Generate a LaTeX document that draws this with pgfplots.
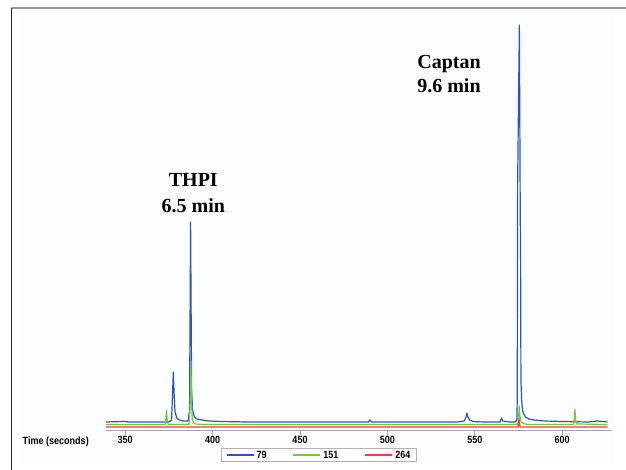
\documentclass[border=0pt]{standalone}
\usepackage{fontspec}
\usepackage{pgfplots}
\pgfplotsset{compat=1.18}
\setmainfont{Liberation Sans}
\newfontfamily\narrowfont{Liberation Sans}[FakeStretch=0.86]
\newfontfamily\annfont{Liberation Serif}
\definecolor{cblue}{RGB}{45,85,185}
\definecolor{cgreen}{RGB}{115,200,65}
\definecolor{cred}{RGB}{240,65,65}
\definecolor{bgfaint}{RGB}{252,253,255}
\begin{document}
\begin{tikzpicture}[x=1pt,y=1pt]
\path[use as bounding box] (0,0) rectangle (626,-470);
\fill[bgfaint] (20,-16) rectangle (614,-462);
\draw[line width=1.6pt, gray!80] (11,-8.3) -- (626,-8.3);
\draw[line width=1pt, black!85] (11,-8) -- (11,-470);
\begin{axis}[
  at={(106pt,-430pt)}, anchor=south west,
  scale only axis, width=506pt, height=414pt,
  xmin=339, xmax=628.5, ymin=0, ymax=414,
  hide y axis,
  axis x line*=bottom,
  axis line style={-, line width=1pt, gray!70},
  xtick={350,400,450,500,550,600},
  xticklabels={350,400,450,500,550,600},
  tick align=outside, major tick length=5pt,
  tick style={gray!70, line width=0.8pt},
  xticklabel style={anchor=center, yshift=-5pt, font=\narrowfont\bfseries\fontsize{10.5}{12}\selectfont},
  legend columns=3,
  legend style={at={(axis description cs:0.421,-0.0611)}, anchor=center,
    draw=gray!60, line width=0.8pt, fill=white, inner xsep=4pt, inner ysep=0pt,
    font=\narrowfont\bfseries\fontsize{10.5}{11}\selectfont,
    /tikz/every even column/.append style={column sep=24pt}},
  legend image code/.code={\draw[#1, line width=1.8pt] (0pt,0pt) -- (27pt,0pt);},
  every axis plot/.append style={line width=1.2pt, line join=round},
]
\addplot[cblue] coordinates {
(339,8) (345,8.3) (350,8.6) (352,8) (360,8) (370,8) (375,8) (376.5,10) (377,32) (377.5,58) (378,35) (378.5,18) (379.5,12) (381,10) (383,9) (386,9) (386.8,20) (387.1,115) (387.4,208) (387.7,120) (388.0,40) (388.5,20) (389.5,13) (391,11) (394,10) (398,9) (405,8.5) (420,8) (450,8) (470,8) (489,8) (490,10) (491,8) (520,8) (540,8) (544,9) (545,13) (545.5,17) (546,13) (547,10) (549,8.5) (555,8) (564.5,8) (565.3,12) (566,9) (570,8) (573,8) (574.1,10) (574.3,35) (574.5,245) (575.5,405) (576.0,218) (576.2,172) (576.4,50) (576.8,30) (577.3,20) (578,16) (579,13) (581,11) (584,10) (590,9) (600,8.5) (615,8) (620,9) (626,8)
};
\addlegendentry{79}
\addplot[cgreen] coordinates {
(339,5.5) (372.8,5.5) (373.3,12) (373.6,20) (374,10) (374.5,5.5) (386.5,5.5) (387.0,20) (387.3,35) (387.6,69) (387.9,30) (388.3,12) (389,7) (390,6) (395,5.5) (574.5,5.5) (575,10) (575.4,24) (575.8,14) (576.5,8) (578,6.5) (580,5.5) (606.5,5.5) (607,12) (607.3,20.7) (607.7,10) (608.3,6) (626,5.5)
};
\addlegendentry{151}
\addplot[cred] coordinates {
(339,3) (574.8,3) (575.3,11) (575.8,4) (576,3) (626,3)
};
\addlegendentry{264}
\end{axis}
\node[anchor=base west, inner sep=0pt, font=\narrowfont\bfseries\fontsize{10.5}{12}\selectfont] at (22.5,-444.9) {Time (seconds)};
\node[anchor=base, inner sep=0pt, font=\annfont\bfseries\fontsize{20}{24}\selectfont] at (193.3,-186.7) {THPI};
\node[anchor=base, inner sep=0pt, font=\annfont\bfseries\fontsize{20}{24}\selectfont] at (193.3,-212.7) {6.5 min};
\node[anchor=base, inner sep=0pt, font=\annfont\bfseries\fontsize{20}{24}\selectfont] at (449,-68.3) {Captan};
\node[anchor=base, inner sep=0pt, font=\annfont\bfseries\fontsize{20}{24}\selectfont] at (449,-92.7) {9.6 min};
\end{tikzpicture}
\end{document}
